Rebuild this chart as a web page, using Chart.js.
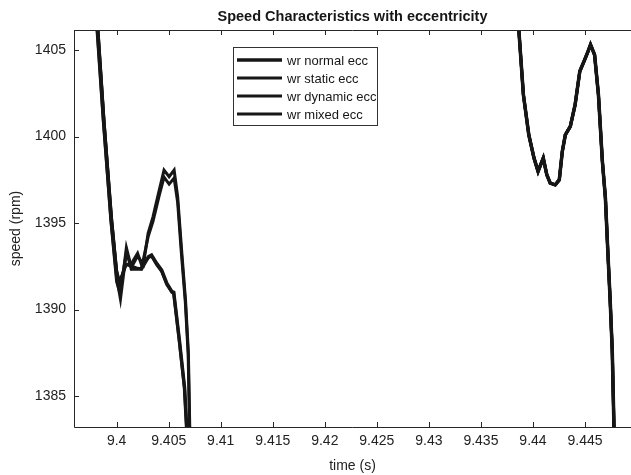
<!DOCTYPE html>
<html lang="en">
<head>
<meta charset="UTF-8">
<title>Speed Characteristics with eccentricity</title>
<script src="https://cdn.jsdelivr.net/npm/chart.js@4.4.0/dist/chart.umd.min.js"></script>
<style>
    html, body { margin: 0; padding: 0; background: #ffffff; }
    #chart-wrap { width: 631px; height: 475px; }
</style>
</head>
<body>
<div id="chart-wrap"><canvas id="speed-chart" width="631" height="475"></canvas></div>
<script>
// Values (time in s, speed in rpm)
const xTickLabels = ['9.4', '9.405', '9.41', '9.415', '9.42', '9.425', '9.43', '9.435', '9.44', '9.445'];
const yTickLabels = ['1385', '1390', '1395', '1400', '1405'];
const seriesNames = ['wr normal ecc', 'wr static ecc', 'wr dynamic ecc', 'wr mixed ecc'];

// left part, just after the first dip
const normalTime = [9.39795, 9.39874, 9.39947, 9.40001, 9.40036, 9.40094, 9.40142, 9.40238, 9.40305, 9.40335, 9.40384, 9.40432, 9.40482, 9.40531, 9.40548, 9.40600, 9.40652, 9.40671, 9.4069];
const normalSpeed = [1408, 1401.0, 1395.2, 1391.9, 1390.7, 1393.5, 1392.35, 1392.35, 1393.05, 1393.15, 1392.67, 1392.28, 1391.51, 1391.03, 1391.0, 1388.35, 1385.5, 1383.3, 1381];

const staticTime = [9.39800, 9.39878, 9.39950, 9.39998, 9.40025, 9.40090, 9.40144, 9.40201, 9.40240, 9.40305, 9.40335, 9.40384, 9.40432, 9.40482, 9.40531, 9.40548, 9.40600, 9.40652, 9.40671, 9.4069];
const staticSpeed = [1408, 1400.9, 1395.3, 1392.3, 1391.5, 1392.6, 1392.67, 1393.25, 1392.57, 1393.0, 1393.1, 1392.6, 1392.2, 1391.45, 1391.0, 1390.95, 1388.3, 1385.4, 1383.3, 1381];

const dynamicTime = [9.39790, 9.39870, 9.39945, 9.40000, 9.40030, 9.40094, 9.40142, 9.40201, 9.40257, 9.40302, 9.40349, 9.40409, 9.40455, 9.40504, 9.40552, 9.40586, 9.40624, 9.40662, 9.40689, 9.40702, 9.4072];
const dynamicSpeed = [1408, 1401.0, 1395.1, 1391.6, 1391.0, 1393.3, 1392.45, 1393.1, 1392.6, 1394.4, 1395.36, 1396.9, 1398.06, 1397.68, 1398.06, 1396.52, 1393.44, 1390.5, 1387.5, 1383.3, 1380];

const mixedTime = [9.39800, 9.39880, 9.39952, 9.40000, 9.40028, 9.40090, 9.40144, 9.40190, 9.40238, 9.40302, 9.40349, 9.40409, 9.40455, 9.40504, 9.40552, 9.40586, 9.40620, 9.40660, 9.40687, 9.40700, 9.4072];
const mixedSpeed = [1408, 1400.8, 1395.2, 1392.2, 1391.6, 1392.6, 1392.5, 1392.4, 1392.35, 1394.2, 1395.1, 1396.6, 1397.65, 1397.25, 1397.6, 1396.2, 1393.4, 1390.4, 1387.4, 1383.3, 1380];

// right part, the four curves lie on top of each other
const rightTime = [9.43843, 9.43863, 9.43908, 9.43960, 9.44010, 9.44049, 9.44099, 9.44133, 9.44166, 9.44214, 9.44253, 9.44282, 9.44311, 9.44359, 9.44405, 9.44450, 9.44497, 9.44529, 9.44553, 9.44592, 9.44629, 9.44667, 9.44696, 9.44719, 9.44742, 9.44762, 9.44778, 9.4479];
const rightSpeed = [1408, 1406.27, 1402.42, 1400.10, 1398.76, 1397.99, 1398.76, 1397.79, 1397.31, 1397.21, 1397.50, 1399.14, 1400.10, 1400.59, 1401.84, 1403.77, 1404.44, 1404.92, 1405.31, 1404.73, 1402.42, 1398.57, 1396.45, 1393.4, 1390.5, 1387.6, 1383.3, 1381];

const FONT = '"Liberation Sans", Arial, Helvetica, sans-serif';
const INK = '#161616';

function toPoints(time, speed) {
    const pts = time.map((t, i) => ({ x: t, y: speed[i] }));
    // curve is out of the visible window between the two parts
    pts.push({ x: 9.42, y: null });
    rightTime.forEach((t, i) => pts.push({ x: t, y: rightSpeed[i] }));
    return pts;
}

// MATLAB style frame: lines on left, bottom, top and inward tick marks
const axisFrame = {
    id: 'axisFrame',
    afterDatasetsDraw(chart) {
        const { ctx, chartArea: a, scales: { x, y } } = chart;
        ctx.save();
        ctx.strokeStyle = '#262626';
        ctx.lineWidth = 1;
        ctx.beginPath();
        ctx.moveTo(a.left + 0.5, a.top);
        ctx.lineTo(a.left + 0.5, a.bottom + 0.5);
        ctx.lineTo(a.right, a.bottom + 0.5);
        ctx.moveTo(a.left, a.top + 0.5);
        ctx.lineTo(a.right, a.top + 0.5);
        x.ticks.forEach(t => {
            const px = Math.round(x.getPixelForValue(t.value)) + 0.5;
            ctx.moveTo(px, a.bottom);
            ctx.lineTo(px, a.bottom - 5);
            ctx.moveTo(px, a.top);
            ctx.lineTo(px, a.top + 5);
        });
        y.ticks.forEach(t => {
            const py = Math.round(y.getPixelForValue(t.value)) + 0.5;
            ctx.moveTo(a.left, py);
            ctx.lineTo(a.left + 5, py);
        });
        ctx.stroke();
        ctx.restore();
    }
};

// boxed legend inside the axes, like the original figure
const boxLegend = {
    id: 'boxLegend',
    afterDraw(chart) {
        const ctx = chart.ctx;
        const left = 233, top = 47, w = 144, h = 78, rowH = 18;
        ctx.save();
        ctx.fillStyle = '#ffffff';
        ctx.fillRect(left, top, w, h);
        ctx.strokeStyle = '#333333';
        ctx.lineWidth = 1;
        ctx.strokeRect(left + 0.5, top + 0.5, w, h);
        ctx.font = '13px ' + FONT;
        ctx.textBaseline = 'middle';
        chart.data.datasets.forEach((ds, i) => {
            const yy = top + 13 + i * rowH;
            ctx.strokeStyle = ds.borderColor;
            ctx.lineWidth = ds.borderWidth;
            ctx.beginPath();
            ctx.moveTo(left + 4, yy);
            ctx.lineTo(left + 49, yy);
            ctx.stroke();
            ctx.fillStyle = INK;
            ctx.fillText(ds.label, left + 54, yy + 1);
        });
        ctx.restore();
    }
};

const seriesData = [
    toPoints(normalTime, normalSpeed),
    toPoints(staticTime, staticSpeed),
    toPoints(dynamicTime, dynamicSpeed),
    toPoints(mixedTime, mixedSpeed)
];
const widths = [3.5, 3, 3, 3];

const xTickValues = xTickLabels.map(Number);
const yTickValues = yTickLabels.map(Number);

new Chart(document.getElementById('speed-chart'), {
    type: 'line',
    data: {
        datasets: seriesNames.map((name, i) => ({
            label: name,
            data: seriesData[i],
            borderColor: INK,
            backgroundColor: INK,
            borderWidth: widths[i],
            pointRadius: 0,
            tension: 0,
            fill: false,
            spanGaps: false,
            clip: 0
        }))
    },
    options: {
        responsive: false,
        animation: false,
        devicePixelRatio: 1,
        layout: { padding: 0 },
        plugins: {
            legend: { display: false },
            tooltip: { enabled: false },
            title: {
                display: true,
                text: 'Speed Characteristics with eccentricity',
                fullSize: false,
                color: INK,
                font: { family: FONT, size: 14.5, weight: 'bold' },
                padding: { top: 8, bottom: 4.6 }
            }
        },
        scales: {
            x: {
                type: 'linear',
                min: 9.3959,
                max: 9.44942,
                afterFit: s => { s.height = 48; },
                afterBuildTicks: s => { s.ticks = xTickValues.map(v => ({ value: v })); },
                grid: { display: false, drawTicks: false },
                border: { display: false },
                ticks: {
                    autoSkip: false,
                    maxRotation: 0,
                    padding: 6,
                    color: '#222222',
                    font: { family: FONT, size: 14 },
                    callback: (v, i) => xTickLabels[i]
                },
                title: {
                    display: true,
                    text: 'time (s)',
                    color: '#222222',
                    font: { family: FONT, size: 14 },
                    padding: { top: 1, bottom: 0 }
                }
            },
            y: {
                type: 'linear',
                min: 1383.21,
                max: 1406.16,
                afterFit: s => { s.width = 74; },
                afterBuildTicks: s => { s.ticks = yTickValues.map(v => ({ value: v })); },
                grid: { display: false, drawTicks: false },
                border: { display: false },
                ticks: {
                    padding: 8,
                    color: '#222222',
                    font: { family: FONT, size: 14 },
                    callback: (v, i) => yTickLabels[i]
                },
                title: {
                    display: true,
                    text: 'speed (rpm)',
                    color: '#222222',
                    font: { family: FONT, size: 14 },
                    padding: { top: 8, bottom: 0 }
                }
            }
        }
    },
    plugins: [axisFrame, boxLegend]
});
</script>
</body>
</html>
